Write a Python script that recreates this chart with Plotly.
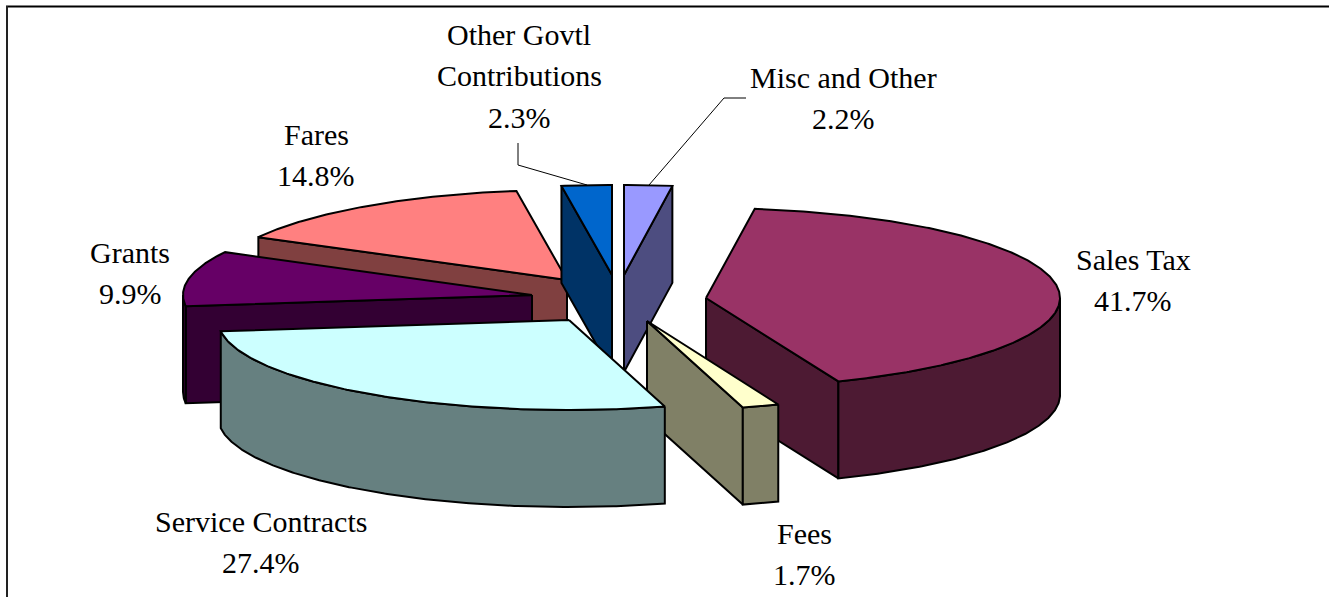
import numpy as np
import plotly.graph_objects as go

# ---- data (clockwise, starting at Misc and Other = 12 o'clock)
names = ["Misc and Other", "Sales Tax", "Fees", "Service Contracts", "Grants", "Fares", "Other Govtl Contributions"]
values = [2.2, 41.7, 1.7, 27.4, 9.9, 14.8, 2.3]
label_lines = [["Misc and Other", "2.2%"], ["Sales Tax", "41.7%"], ["Fees", "1.7%"], ["Service Contracts", "27.4%"],
               ["Grants", "9.9%"], ["Fares", "14.8%"], ["Other Govtl", "Contributions", "2.3%"]]

# ---- styles / layout
top_colors = ["#9999ff", "#993366", "#ffffcc", "#ccffff", "#660066", "#ff8080", "#0066cc"]
wall_colors = ["#4d4d80", "#4d1a33", "#808066", "#668080", "#330033", "#804040", "#003366"]
apex_x = [624, 706, 647, 569, 532, 567, 612]
apex_y = [275, 298, 321, 320, 295, 280, 275]
slice_rx = [351, 354, 351, 351, 349, 351, 351]
label_x = [843, 1133, 804, 261, 130, 316, 519]
label_y = [77, 259, 533, 521, 252, 134, 34]
draw_order = [5, 6, 0, 4, 1, 2, 3]
RY, H = 90, 97
LINE_GAP = 41.5
FONT = "Liberation Serif, Times New Roman, serif"
LINE = dict(color="black", width=2)

fractions = np.array(values) / sum(values) * 360
ends = np.cumsum(fractions)
starts = ends - fractions


def rim(i, a, b, dy=0):
    t = np.radians(np.linspace(a, b, max(int(abs(b - a)) * 2, 2)))
    return apex_x[i] + slice_rx[i] * np.sin(t), apex_y[i] - RY * np.cos(t) + dy


def poly(fig, xs, ys, color, name):
    fig.add_trace(go.Scatter(x=list(xs) + [xs[0]], y=list(ys) + [ys[0]], mode="lines", fill="toself",
                             fillcolor=color, line=LINE, name=name, hoverinfo="name", showlegend=False))


fig = go.Figure()
for i in draw_order:
    cx, cy, a, b = apex_x[i], apex_y[i], starts[i], ends[i]
    # visible radial cut faces
    if 180 < a < 360:
        px, py = rim(i, a, a)
        poly(fig, [cx, px[0], px[0], cx], [cy, py[0], py[0] + H, cy + H], wall_colors[i], names[i])
    if 0 < b < 180:
        px, py = rim(i, b, b)
        poly(fig, [cx, px[0], px[0], cx], [cy, py[0], py[0] + H, cy + H], wall_colors[i], names[i])
    # visible outer wall
    lo, hi = max(a, 90), min(b, 270)
    if hi > lo:
        tx, ty = rim(i, lo, hi)
        bx, by = rim(i, hi, lo, H)
        poly(fig, np.r_[tx, bx], np.r_[ty, by], wall_colors[i], names[i])
    # top face
    tx, ty = rim(i, a, b)
    poly(fig, np.r_[cx, tx], np.r_[cy, ty], top_colors[i], names[i])

# leader lines
fig.add_trace(go.Scatter(x=[518, 518, 587], y=[143, 165, 185], mode="lines",
                         line=dict(color="black", width=1), hoverinfo="skip", showlegend=False))
fig.add_trace(go.Scatter(x=[746, 724, 649], y=[98, 98, 185], mode="lines",
                         line=dict(color="black", width=1), hoverinfo="skip", showlegend=False))

for i, lines in enumerate(label_lines):
    for k, line in enumerate(lines):
        fig.add_annotation(x=label_x[i], y=label_y[i] + k * LINE_GAP, text=line, showarrow=False,
                           font=dict(family=FONT, size=30, color="black"),
                           xanchor="center", yanchor="middle")

# frame
fig.add_shape(type="line", xref="x", yref="y", x0=6, x1=1329, y0=6.5, y1=6.5, line=dict(color="black", width=2))
fig.add_shape(type="line", xref="x", yref="y", x0=7, x1=7, y0=6, y1=597, line=dict(color="#222222", width=2))

fig.update_layout(width=1329, height=597, margin=dict(l=0, r=0, t=0, b=0), paper_bgcolor="white",
                  plot_bgcolor="white", showlegend=False,
                  xaxis=dict(range=[0, 1329], visible=False, fixedrange=True),
                  yaxis=dict(range=[597, 0], visible=False, fixedrange=True))
fig.write_html("out.html", config={"displayModeBar": False},
               post_script="document.body.style.margin='0';document.body.style.overflow='hidden';")
